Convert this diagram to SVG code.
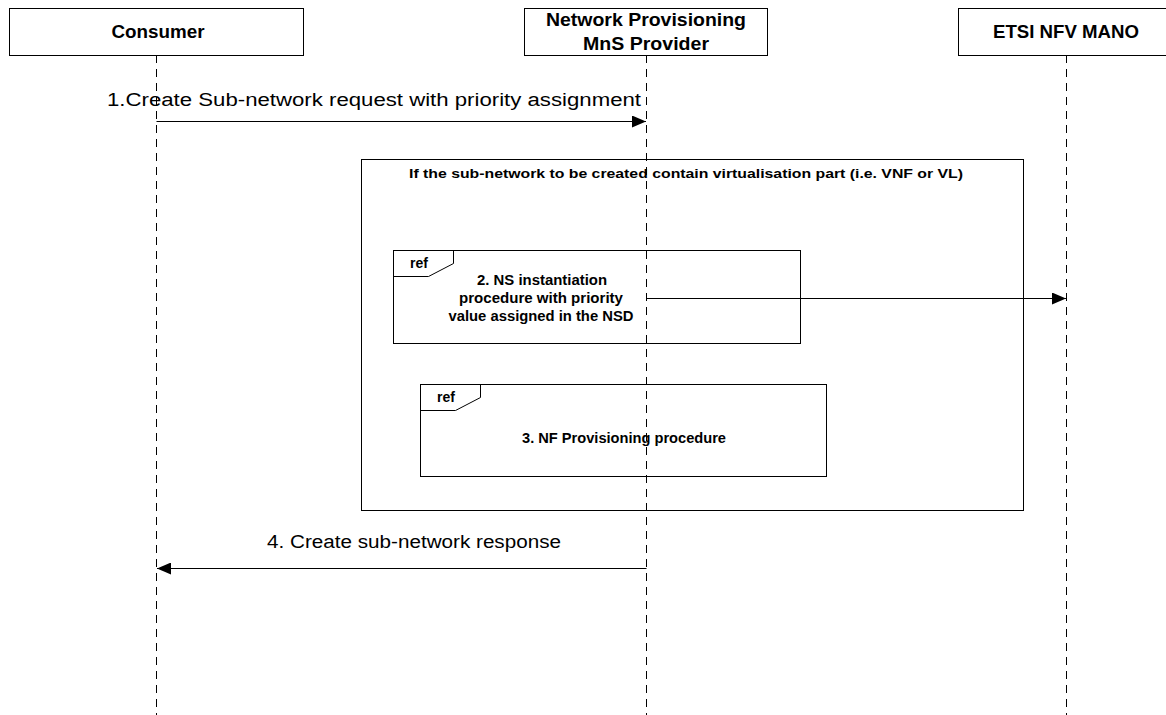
<svg xmlns="http://www.w3.org/2000/svg" width="1166" height="715" viewBox="0 0 1166 715">
<defs>
<style>
.box{fill:#fff;stroke:#000;stroke-width:1}
.life{stroke:#000;stroke-width:1;stroke-dasharray:8,6;fill:none}
.msg{stroke:#000;stroke-width:1;fill:none}
.frame{fill:none;stroke:#000;stroke-width:1}
.hdr{font-family:"Liberation Sans",Arial,sans-serif;font-weight:bold;font-size:18px;text-anchor:middle}
.lbl{font-family:"Liberation Sans",Arial,sans-serif;font-size:18px;text-anchor:middle}
.sm{font-family:"Liberation Sans",Arial,sans-serif;font-weight:bold;font-size:14px;text-anchor:middle}
.ti{font-family:"Liberation Sans",Arial,sans-serif;font-weight:bold;font-size:13px;text-anchor:middle}
.ref{font-family:"Liberation Sans",Arial,sans-serif;font-weight:bold;font-size:14px}
</style>
<marker id="ah" markerWidth="14" markerHeight="12" refX="14" refY="6" orient="auto" markerUnits="userSpaceOnUse">
<path d="M0,0 L14,6 L0,12 Z" fill="#000"/>
</marker>
</defs>
<rect width="1166" height="715" fill="#fff"/>
<g id="lifelines">
<line class="life" x1="156.5" y1="55" x2="156.5" y2="715"/>
<line class="life" x1="646.5" y1="55" x2="646.5" y2="715"/>
<line class="life" x1="1066.5" y1="55" x2="1066.5" y2="715"/>
</g>
<g id="consumer">
<rect class="box" x="9.5" y="8.5" width="294" height="47"/>
<text class="hdr" x="158" y="38" textLength="93" lengthAdjust="spacingAndGlyphs">Consumer</text>
</g>
<g id="provider">
<rect class="box" x="524.5" y="8.5" width="243" height="47"/>
<text class="hdr" x="646" y="26" textLength="200" lengthAdjust="spacingAndGlyphs">Network Provisioning</text>
<text class="hdr" x="646" y="50" textLength="126" lengthAdjust="spacingAndGlyphs">MnS Provider</text>
</g>
<g id="mano">
<rect class="box" x="958.5" y="8.5" width="220" height="47"/>
<text class="hdr" x="1066" y="38" textLength="146" lengthAdjust="spacingAndGlyphs">ETSI NFV MANO</text>
</g>
<g id="frame">
<rect class="frame" x="361.5" y="159.5" width="662" height="351"/>
<text class="ti" x="686" y="178" textLength="554" lengthAdjust="spacingAndGlyphs">If the sub-network to be created contain virtualisation part (i.e. VNF or VL)</text>
</g>
<g id="ref1">
<rect class="frame" x="393.5" y="250.5" width="407" height="93"/>
<path class="frame" d="M393.5,276.5 L428.5,276.5 L453.5,263.5 L453.5,250.5"/>
<text class="ref" x="410" y="268">ref</text>
<text class="sm" x="542" y="285" textLength="130" lengthAdjust="spacingAndGlyphs">2. NS instantiation</text>
<text class="sm" x="541" y="303" textLength="164" lengthAdjust="spacingAndGlyphs">procedure with priority</text>
<text class="sm" x="541" y="321" textLength="185" lengthAdjust="spacingAndGlyphs">value assigned in the NSD</text>
</g>
<g id="ref2">
<rect class="frame" x="420.5" y="384.5" width="406" height="92"/>
<path class="frame" d="M420.5,410.5 L455.5,410.5 L480.5,397.5 L480.5,384.5"/>
<text class="ref" x="437" y="402">ref</text>
<text class="sm" x="624" y="443" textLength="204" lengthAdjust="spacingAndGlyphs">3. NF Provisioning procedure</text>
</g>
<g id="connectors">
<line class="msg" x1="156.5" y1="121.5" x2="646" y2="121.5" marker-end="url(#ah)"/>
<text class="lbl" x="374" y="106" textLength="534" lengthAdjust="spacingAndGlyphs">1.Create Sub-network request with priority assignment</text>
<line class="msg" x1="646.5" y1="298.5" x2="1066" y2="298.5" marker-end="url(#ah)"/>
<line class="msg" x1="646.5" y1="568.5" x2="157" y2="568.5" marker-end="url(#ah)"/>
<text class="lbl" x="414" y="548" textLength="294" lengthAdjust="spacingAndGlyphs">4. Create sub-network response</text>
</g>
</svg>
